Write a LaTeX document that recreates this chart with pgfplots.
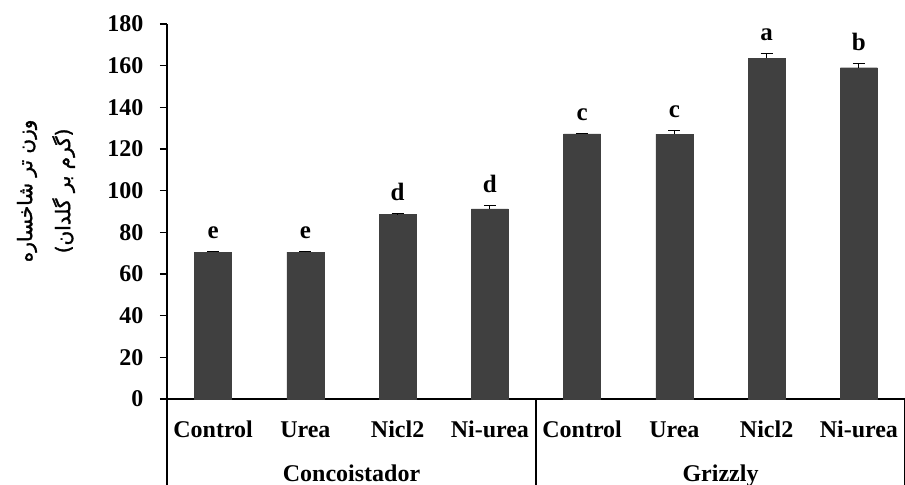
\documentclass[border=0pt]{standalone}
\usepackage{pgfplots}
\pgfplotsset{compat=1.18}
\usepackage{pgfplotstable}
\usepackage{fontspec}
\setmainfont{Liberation Serif}
\newfontfamily\arabicfont[Script=Arabic, FakeBold=1.5]{DejaVu Sans}
\TeXXeTstate=1
\definecolor{bargray}{HTML}{404040}

\pgfplotstableread{
x y err lab
0 70.5 0.5 e
1 70.5 0.5 e
2 88.5 0.4 d
3 91.2 1.7 d
4 127.2 0.3 c
5 127.1 1.6 c
6 163.6 2.1 a
7 159.0 2.1 b
}\shootdata

\begin{document}
\begin{tikzpicture}
\path[use as bounding box] (-167bp,-86bp) rectangle (738bp,399bp);
\begin{axis}[
    at={(0,0)}, anchor=south west,
    width=738bp, height=375bp,
    scale only axis,
    clip=false,
    xmin=-0.5, xmax=7.5,
    ymin=0, ymax=180,
    axis x line=bottom,
    axis y line=left,
    axis line style={-, line width=1.2bp, black},
    ytick={0,20,...,180},
    tick align=outside,
    major tick length=7bp,
    ytick style={line width=1.2bp, black},
    xtick=data,
    xticklabels={Control,Urea,Nicl2,Ni-urea,Control,Urea,Nicl2,Ni-urea},
    major x tick style={draw=none},
    tick label style={font=\bfseries\fontsize{24bp}{26bp}\selectfont},
    /pgf/number format/assume math mode=true,
    yticklabel style={xshift=-13bp},
    xticklabel style={anchor=base, yshift=-31bp},
    ylabel={\beginR وزن تر شاخساره\endR\\\beginR (گرم بر گلدان)\endR},
    ylabel style={at={(axis description cs:0,0.555)}, anchor=center, yshift=121bp,
        align=center, font=\arabicfont\fontsize{20bp}{38bp}\selectfont},
]
\addplot[ybar, bar width=37bp, fill=bargray, draw=bargray,
    error bars/.cd, y dir=plus, y explicit,
    error bar style={line width=1bp, black},
    error mark options={rotate=90, mark size=6bp, line width=1bp, black}]
    table[x=x, y=y, y error=err] {\shootdata};
\addplot[draw=none, mark=none, nodes near coords, point meta=explicit symbolic,
    every node near coord/.style={anchor=base, yshift=13bp,
        font=\bfseries\fontsize{25bp}{26bp}\selectfont}]
    table[x=x, y expr=\thisrow{y}+\thisrow{err}, meta=lab] {\shootdata};
% group separators and group names
\draw[line width=1.2bp] (axis cs:-0.5,0) -- ([yshift=-86bp]axis cs:-0.5,0);
\draw[line width=1.2bp] (axis cs:3.5,0) -- ([yshift=-86bp]axis cs:3.5,0);
\draw[line width=1.2bp] (axis cs:7.5,0) -- ([yshift=-86bp]axis cs:7.5,0);
\node[anchor=base, font=\bfseries\fontsize{24bp}{26bp}\selectfont] at (axis cs:1.5,0) [yshift=-82bp] {Concoistador};
\node[anchor=base, font=\bfseries\fontsize{24bp}{26bp}\selectfont] at (axis cs:5.5,0) [yshift=-82bp] {Grizzly};
\end{axis}
\end{tikzpicture}
\end{document}
